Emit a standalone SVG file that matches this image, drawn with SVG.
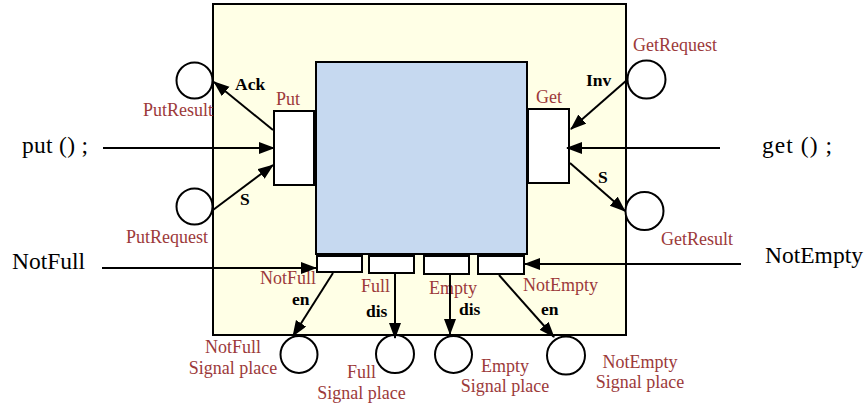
<svg xmlns="http://www.w3.org/2000/svg" width="866" height="405" viewBox="0 0 866 405">
  <style>
    .frame { fill: #ffffe6; stroke: #000; stroke-width: 2; }
    .core { fill: #c6d9f0; stroke: #000; stroke-width: 2; }
    .port { fill: #fff; stroke: #000; stroke-width: 2; }
    .place { fill: #fff; stroke: #000; stroke-width: 2; }
    .arc { fill: none; stroke: #000; stroke-width: 2; marker-end: url(#head); }
    .lbl { font-family: "Liberation Serif", "Times New Roman", serif; font-size: 18px; fill: #9c3a3a; }
    .mid { text-anchor: middle; }
    .tag { font-family: "Liberation Serif", "Times New Roman", serif; font-size: 17.5px; font-weight: bold; fill: #000; }
    .call { font-family: "Liberation Serif", "Times New Roman", serif; font-size: 23.5px; fill: #000; }
  </style>
  <defs>
    <marker id="head" markerUnits="userSpaceOnUse" markerWidth="17" markerHeight="13" refX="15" refY="6" orient="auto">
      <path d="M0,0 L16,6 L0,12 z" fill="#000"/>
    </marker>
  </defs>

  <!-- component frame and core -->
  <g id="frame">
    <rect class="frame" x="213" y="4" width="413" height="331"/>
  </g>
  <g id="core">
    <rect class="core" x="316" y="62" width="211" height="192"/>
  </g>

  <!-- method ports -->
  <g id="put-port">
    <rect class="port" x="274" y="111" width="40" height="74"/>
    <text class="lbl" x="276" y="105">Put</text>
  </g>
  <g id="get-port">
    <rect class="port" x="528" y="109" width="41" height="74"/>
    <text class="lbl" x="536" y="103">Get</text>
  </g>

  <!-- signal ports -->
  <g id="notfull-port">
    <rect class="port" x="317" y="256" width="45" height="16"/>
    <text class="lbl" x="260" y="284">NotFull</text>
  </g>
  <g id="full-port">
    <rect class="port" x="369" y="256" width="45" height="17"/>
    <text class="lbl" x="361" y="292">Full</text>
  </g>
  <g id="empty-port">
    <rect class="port" x="424" y="256" width="45" height="18"/>
    <text class="lbl" x="429" y="294">Empty</text>
  </g>
  <g id="notempty-port">
    <rect class="port" x="478" y="256" width="46" height="18"/>
    <text class="lbl" x="523" y="291">NotEmpty</text>
  </g>

  <!-- places -->
  <g id="put-result">
    <circle class="place" cx="194.5" cy="80.5" r="18"/>
    <text class="lbl" x="143" y="116">PutResult</text>
  </g>
  <g id="put-request">
    <circle class="place" cx="194.5" cy="206.5" r="18"/>
    <text class="lbl" x="126" y="243">PutRequest</text>
  </g>
  <g id="get-request">
    <circle class="place" cx="646.5" cy="79.5" r="19"/>
    <text class="lbl" x="633" y="51">GetRequest</text>
  </g>
  <g id="get-result">
    <circle class="place" cx="644.5" cy="211" r="19"/>
    <text class="lbl" x="661" y="245">GetResult</text>
  </g>
  <g id="notfull-place">
    <circle class="place" cx="299" cy="354.5" r="18.5"/>
    <text class="lbl mid" x="233" y="353">NotFull</text>
    <text class="lbl mid" x="233" y="374">Signal place</text>
  </g>
  <g id="full-place">
    <circle class="place" cx="395" cy="354" r="19"/>
    <text class="lbl mid" x="361.5" y="378">Full</text>
    <text class="lbl mid" x="361.5" y="399">Signal place</text>
  </g>
  <g id="empty-place">
    <circle class="place" cx="453.5" cy="354.5" r="18.5"/>
    <text class="lbl mid" x="505" y="372">Empty</text>
    <text class="lbl mid" x="505" y="392">Signal place</text>
  </g>
  <g id="notempty-place">
    <circle class="place" cx="566" cy="355.5" r="19"/>
    <text class="lbl mid" x="640" y="368">NotEmpty</text>
    <text class="lbl mid" x="640" y="388">Signal place</text>
  </g>

  <!-- external inputs -->
  <g id="put-call">
    <text class="call" x="22" y="153" xml:space="preserve" textLength="66" lengthAdjust="spacing">put () ;</text>
  </g>
  <g id="get-call">
    <text class="call" x="762" y="153" xml:space="preserve" textLength="70" lengthAdjust="spacing">get () ;</text>
  </g>
  <g id="notfull-in">
    <text class="call" x="12" y="269">NotFull</text>
  </g>
  <g id="notempty-in">
    <text class="call" x="765" y="263">NotEmpty</text>
  </g>

  <!-- connectors -->
  <g id="connectors">
    <line class="arc" x1="273" y1="130" x2="214" y2="82"/>
    <line class="arc" x1="103" y1="148" x2="274" y2="148"/>
    <line class="arc" x1="213" y1="210" x2="273" y2="165"/>
    <line class="arc" x1="627" y1="80" x2="571" y2="129"/>
    <line class="arc" x1="720" y1="148" x2="567" y2="148"/>
    <line class="arc" x1="570" y1="163" x2="625" y2="211"/>
    <line class="arc" x1="102" y1="268" x2="316" y2="268"/>
    <line class="arc" x1="741" y1="264" x2="525" y2="264"/>
    <line class="arc" x1="333" y1="273" x2="293" y2="336"/>
    <line class="arc" x1="395" y1="273" x2="395" y2="338"/>
    <line class="arc" x1="450" y1="274" x2="450" y2="334"/>
    <line class="arc" x1="499" y1="275" x2="554" y2="337"/>
    <text class="tag" x="235" y="90">Ack</text>
    <text class="tag" x="240" y="205">S</text>
    <text class="tag" x="586" y="86">Inv</text>
    <text class="tag" x="598" y="183">S</text>
    <text class="tag" x="292" y="305">en</text>
    <text class="tag" x="366" y="317">dis</text>
    <text class="tag" x="459" y="315">dis</text>
    <text class="tag" x="541" y="315">en</text>
  </g>
</svg>
